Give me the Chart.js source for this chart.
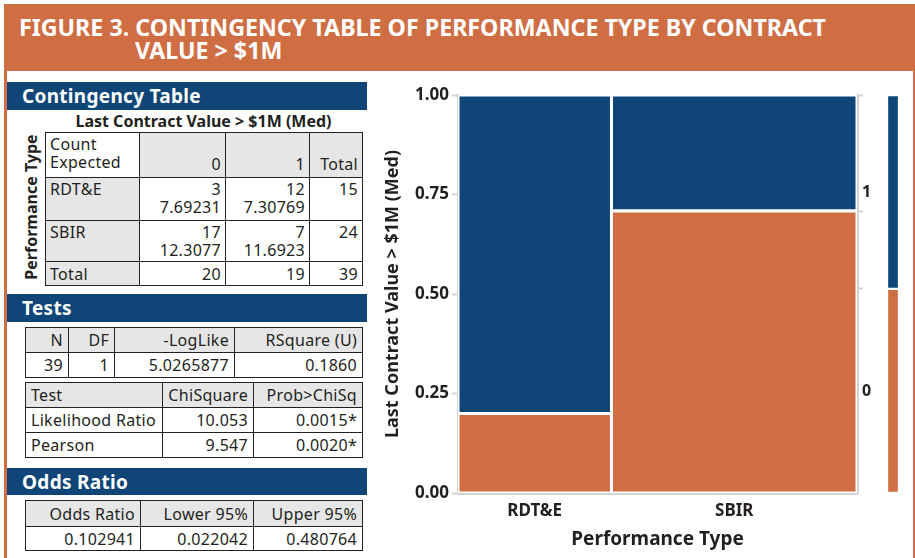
<!DOCTYPE html>
<html>
<head>
<meta charset="utf-8">
<script src="https://cdn.jsdelivr.net/npm/chart.js@4/dist/chart.umd.min.js"></script>
<style>
  body { margin: 0; width: 915px; height: 558px; background: #fff; position: relative; overflow: hidden;
         font-family: 'Noto Sans', sans-serif; color: #231f20; }
  .abs { position: absolute; }
  #header { left: 4px; top: 4px; width: 911px; height: 67px; background: #cf6d43; }
  #frameL { left: 4px; top: 71px; width: 3px; height: 487px; background: #cf6d43; }
  #frameR { left: 913px; top: 71px; width: 2px; height: 487px; background: #cf6d43; }
  .title { color: #fff; font-weight: 700; font-size: 23px; white-space: nowrap; transform-origin: 0 0; line-height: 24px; }
  .bar { left: 7px; width: 360px; background: #0f4677; color: #fff; font-weight: 700; font-size: 19px;
         letter-spacing: 0.3px; box-sizing: border-box; padding-left: 15px; }
  table { border-collapse: collapse; position: absolute; table-layout: fixed; font-size: 16px; letter-spacing: 0.3px; }
  td { border: 1.5px solid #222; padding: 2px 4px 0 4px; text-align: right; vertical-align: top; line-height: 18px;
       overflow: hidden; white-space: nowrap; }
  td.g { background: #e6e6e7; }
  td.l { text-align: left; }
  td.b { vertical-align: bottom; padding-bottom: 4px; }
  td.m { vertical-align: middle; padding-top: 0; }
  .small td { vertical-align: middle; padding: 0 5px; }
</style>
</head>
<body>
<div id="header" class="abs"></div>
<div id="frameL" class="abs"></div>
<div id="frameR" class="abs"></div>
<div id="t1" class="abs title" style="left:19px; top:15px;">FIGURE 3. CONTINGENCY TABLE OF PERFORMANCE TYPE BY CONTRACT</div>
<div id="t2" class="abs title" style="left:135px; top:38px;">VALUE &gt; $1M</div>

<div class="abs bar" style="top:82px; height:28px; line-height:29px;">Contingency Table</div>
<div class="abs" style="left:45px; width:317px; top:110px; text-align:center; font-weight:700; font-size:16px;">Last Contract Value &gt; $1M (Med)</div>
<div class="abs" style="left:31px; top:207px; transform: translate(-50%,-50%) rotate(-90deg); font-weight:700; font-size:16px; white-space:nowrap;">Performance Type</div>

<table style="left:45px; top:132px; width:317px;">
  <colgroup><col style="width:94px"><col style="width:86px"><col style="width:84px"><col style="width:53px"></colgroup>
  <tr style="height:45px"><td class="l">Count<br>Expected</td><td class="g b">0</td><td class="g b">1</td><td class="g b">Total</td></tr>
  <tr style="height:43px"><td class="g l">RDT&amp;E</td><td>3<br>7.69231</td><td>12<br>7.30769</td><td>15</td></tr>
  <tr style="height:41px"><td class="g l">SBIR</td><td>17<br>12.3077</td><td>7<br>11.6923</td><td>24</td></tr>
  <tr style="height:24px"><td class="g l m">Total</td><td class="m">20</td><td class="m">19</td><td class="m">39</td></tr>
</table>

<div class="abs bar" style="top:294px; height:28px; line-height:29px;">Tests</div>
<table class="small" style="left:25px; top:327px; width:337px;">
  <colgroup><col style="width:43px"><col style="width:46px"><col style="width:120px"><col style="width:128px"></colgroup>
  <tr style="height:25px"><td class="g">N</td><td class="g">DF</td><td class="g">-LogLike</td><td class="g">RSquare (U)</td></tr>
  <tr style="height:25px"><td>39</td><td>1</td><td>5.0265877</td><td>0.1860</td></tr>
</table>
<table class="small" style="left:25px; top:382px; width:337px;">
  <colgroup><col style="width:137px"><col style="width:91px"><col style="width:109px"></colgroup>
  <tr style="height:25px"><td class="g l">Test</td><td class="g">ChiSquare</td><td class="g">Prob&gt;ChiSq</td></tr>
  <tr style="height:25px"><td class="l">Likelihood Ratio</td><td>10.053</td><td>0.0015*</td></tr>
  <tr style="height:25px"><td class="l">Pearson</td><td>9.547</td><td>0.0020*</td></tr>
</table>

<div class="abs bar" style="top:468px; height:27px; line-height:28px;">Odds Ratio</div>
<table class="small" style="left:25px; top:500px; width:337px;">
  <colgroup><col style="width:115px"><col style="width:113px"><col style="width:109px"></colgroup>
  <tr style="height:26px"><td class="g">Odds Ratio</td><td class="g">Lower 95%</td><td class="g">Upper 95%</td></tr>
  <tr style="height:24px"><td>0.102941</td><td>0.022042</td><td>0.480764</td></tr>
</table>

<div class="abs" style="left:370px; top:80px; width:510px; height:478px;"><canvas id="mosaic"></canvas></div>
<div class="abs" style="left:887px; top:95px; width:12px; height:398px;"><canvas id="margin"></canvas></div>

<script>
// fit the title line to the reference width
const t1 = document.getElementById("t1");
const sx = 807 / t1.getBoundingClientRect().width;
t1.style.transform = "scaleX(" + sx + ")";
document.getElementById("t2").style.transform = "scaleX(" + sx + ")";

const categories = ["RDT&E", "SBIR"];
const levels = ["0", "1"];
const count0 = [3, 17];
const count1 = [12, 7];
const yTicks = [0, 0.25, 0.5, 0.75, 1];

const orange = "#cf6d43";
const blue = "#0f4677";
const axisGrey = "#d4d4d5";

Chart.defaults.font.family = "'Noto Sans', sans-serif";
Chart.defaults.color = "#231f20";

const colTotals = count0.map((c, i) => c + count1[i]);
const grand = colTotals.reduce((a, b) => a + b, 0);
const total0 = count0.reduce((a, b) => a + b, 0);
const total1 = count1.reduce((a, b) => a + b, 0);

// build one closed rectangle per cell of the table
var datasets = [];
var centers = [];
var left = 0;
categories.forEach(function (cat, i) {
    var right = left + colTotals[i] / grand;
    var split = count0[i] / colTotals[i];
    centers.push((left + right) / 2);
    [[0, split, orange], [split, 1, blue]].forEach(function (seg) {
        datasets.push({
            data: [
                { x: left, y: seg[0] }, { x: left, y: seg[1] },
                { x: right, y: seg[1] }, { x: right, y: seg[0] }, { x: left, y: seg[0] },
            ],
            showLine: true,
            fill: "shape",
            backgroundColor: seg[2],
            borderColor: "#fff",
            borderWidth: 3,
            pointRadius: 0,
            tension: 0,
        });
    });
    left = right;
});

// right axis: segment boundaries get tick marks, segment centers get the level names
const margSplit = total0 / grand;
const lastSplit = count0[count0.length - 1] / colTotals[colTotals.length - 1];
const rightTicks = [
    { value: margSplit / 2, label: levels[0], mark: false },
    { value: margSplit, label: "", mark: true },
    { value: lastSplit, label: "", mark: true },
    { value: (margSplit + 1) / 2, label: levels[1], mark: false },
    { value: 1, label: "", mark: true },
];

var ctx = document.getElementById("mosaic").getContext("2d");
var mosaic = new Chart(ctx, {
    type: "scatter",
    data: { datasets: datasets },
    options: {
        responsive: true,
        maintainAspectRatio: false,
        animation: false,
        layout: { padding: { top: 15, left: 0, right: 0, bottom: 0 } },
        plugins: { legend: { display: false }, tooltip: { enabled: false } },
        scales: {
            x: {
                type: "linear",
                min: 0,
                max: 1,
                z: 1,
                afterBuildTicks: function (scale) {
                    scale.ticks = centers.map((v) => ({ value: v }));
                },
                afterFit: function (scale) { scale.height = 65; },
                ticks: {
                    autoSkip: false,
                    maxRotation: 0,
                    padding: 8,
                    font: { size: 17, weight: "bold" },
                    callback: function (v, i) { return categories[i]; },
                },
                grid: { drawOnChartArea: false, drawTicks: false },
                border: { color: axisGrey, width: 3 },
                title: {
                    display: true,
                    text: "Performance Type",
                    font: { size: 19, weight: "bold" },
                    padding: { top: 0, bottom: 7 },
                },
            },
            y: {
                type: "linear",
                min: 0,
                max: 1,
                z: 1,
                afterBuildTicks: function (scale) {
                    scale.ticks = yTicks.map((v) => ({ value: v }));
                },
                afterFit: function (scale) { scale.width = 88; },
                ticks: {
                    padding: 3,
                    font: { size: 17, weight: "bold" },
                    callback: function (v) { return Number(v).toFixed(2); },
                },
                grid: { drawOnChartArea: false, tickLength: 6, tickWidth: 2, tickColor: axisGrey },
                border: { color: axisGrey, width: 3 },
                title: {
                    display: true,
                    text: "Last Contract Value > $1M (Med)",
                    font: { size: 18, weight: "bold" },
                    padding: { top: 12, bottom: 0 },
                },
            },
            y2: {
                type: "linear",
                position: "right",
                min: 0,
                max: 1,
                z: 1,
                afterBuildTicks: function (scale) {
                    scale.ticks = rightTicks.map((t) => ({ value: t.value }));
                },
                afterFit: function (scale) { scale.width = 23; },
                ticks: {
                    autoSkip: false,
                    padding: -1,
                    font: { size: 16, weight: "bold" },
                    callback: function (v, i) { return rightTicks[i].label; },
                },
                grid: {
                    drawOnChartArea: false,
                    tickLength: 6,
                    tickWidth: 2,
                    tickColor: function (c) {
                        return rightTicks[c.index] && rightTicks[c.index].mark ? axisGrey : "rgba(0,0,0,0)";
                    },
                },
                border: { color: axisGrey, width: 3 },
            },
        },
    },
});

// overall share of each level, drawn as the thin bar at the far right
var ctx2 = document.getElementById("margin").getContext("2d");
var marginChart = new Chart(ctx2, {
    type: "bar",
    data: {
        labels: ["All"],
        datasets: [
            { data: [total0 / grand], backgroundColor: orange, borderColor: "#fff", borderWidth: 1.5, borderSkipped: false },
            { data: [total1 / grand], backgroundColor: blue, borderColor: "#fff", borderWidth: 1.5, borderSkipped: false },
        ],
    },
    options: {
        responsive: true,
        maintainAspectRatio: false,
        animation: false,
        layout: { padding: 0 },
        plugins: { legend: { display: false }, tooltip: { enabled: false } },
        scales: {
            x: { display: false, stacked: true },
            y: { display: false, stacked: true, min: 0, max: 1 },
        },
        datasets: { bar: { barPercentage: 1, categoryPercentage: 1 } },
    },
});
</script>
</body>
</html>
